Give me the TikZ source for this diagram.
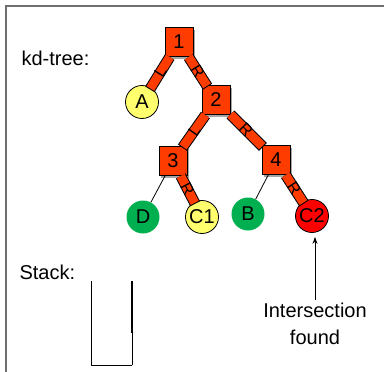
\documentclass[tikz,border=0pt]{standalone}
\usepackage{fontspec}
\setmainfont{Liberation Sans}
\usetikzlibrary{arrows.meta}
\definecolor{sqred}{RGB}{255,60,0}
\definecolor{lyellow}{RGB}{255,255,110}
\definecolor{lgreen}{RGB}{0,176,80}
\definecolor{cred}{RGB}{255,0,0}
\definecolor{framegray}{RGB}{110,110,110}
\begin{document}
\begin{tikzpicture}[x=1pt,y=-1pt,
  every node/.style={font=\fontsize{20}{22}\selectfont},
  sq/.style={draw=black,line width=1pt,fill=sqred,minimum width=28pt,minimum height=29pt,inner sep=0pt},
  shad/.style={fill=gray!70,minimum width=28pt,minimum height=29pt,inner sep=0pt},
  leaf/.style={circle,minimum size=33pt,inner sep=0pt},
  band/.style={line width=11pt,draw=black,shorten >=-2pt,postaction={draw=sqred,line width=9pt,shorten >=-1pt}},
  lbl/.style={font=\fontsize{16}{16}\selectfont,sloped,inner sep=0pt},
  thin/.style={draw=black,line width=0.8pt}
]
\useasboundingbox (0,0) rectangle (384,372);
\fill[white] (0,0) rectangle (384,372);
% frame
\draw[framegray,line width=2pt] (6,372) -- (6,5.5) -- (384,5.5);
% labels
\node[anchor=west] (kd) at (18,58) {kd-tree:};
\node[anchor=west] (st) at (16,272) {Stack:};
% shadows
\node[shad] at (181,44) {};
\node[shad] at (218,102) {};
\node[shad] at (175,163) {};
\node[shad] at (278,162) {};
% tree nodes
\node[sq] (n1) at (179,42) {1};
\node[sq] (n2) at (216,100) {2};
\node[sq] (n3) at (173,161) {3};
\node[sq] (n4) at (276,160) {4};
\node[leaf,draw=black,line width=0.8pt,fill=lyellow] (a) at (142,102) {A};
\node[leaf,fill=lgreen] (d) at (143,217) {D};
\node[leaf,draw=black,line width=0.8pt,fill=lyellow] (c1) at (202,217) {C1};
\node[leaf,fill=lgreen] (b) at (248,214) {B};
\node[leaf,draw=black,line width=0.8pt,fill=cred] (c2) at (312,216) {C2};
% bands
\path[band] (n1) -- node[lbl]{L} (a);
\path[band] (n1) -- node[lbl]{R} (n2);
\path[band] (n2) -- node[lbl]{L} (n3);
\path[band] (n2) -- node[lbl]{R} (n4);
\path[band] (n3) -- node[lbl]{R} (c1);
\path[band] (n4) -- node[lbl]{R} (c2);
\draw[thin] (n3) -- (d);
\draw[thin] (n4) -- (b);
% stack
\draw[black,line width=1pt] (91,281) -- (91,365) -- (132,365);
\draw[black,line width=1.5pt] (132,281) -- (132,333);
\draw[black,line width=0.8pt] (132,333) -- (132,365);
% annotation
\node[align=center,font=\fontsize{20}{27}\selectfont] (txt) at (315,324) {Intersection\\found};
\draw[thin,-{Stealth[length=7pt,width=5pt]}] (txt.north) -- (txt.north |- c2.south) [shorten >=4pt];
\end{tikzpicture}
\end{document}
